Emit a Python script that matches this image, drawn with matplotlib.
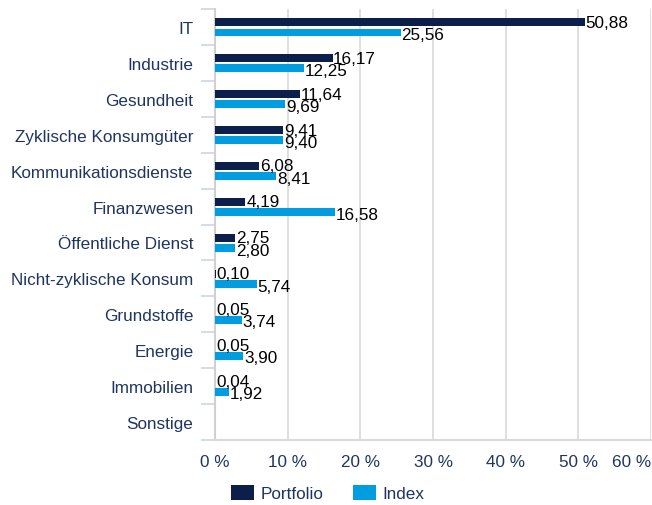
import matplotlib
matplotlib.use("Agg")
import matplotlib.pyplot as plt
import numpy as np
from matplotlib.patches import Patch

categories = ["IT", "Industrie", "Gesundheit", "Zyklische Konsumgüter",
              "Kommunikationsdienste", "Finanzwesen", "Öffentliche Dienst",
              "Nicht-zyklische Konsum", "Grundstoffe", "Energie", "Immobilien", "Sonstige"]
portfolio = [50.88, 16.17, 11.64, 9.41, 6.08, 4.19, 2.75, 0.10, 0.05, 0.05, 0.04, np.nan]
index_vals = [25.56, 12.25, 9.69, 9.40, 8.41, 16.58, 2.80, 5.74, 3.74, 3.90, 1.92, np.nan]
xticks = [0, 10, 20, 30, 40, 50, 60]
series_names = ["Portfolio", "Index"]

plt.rcParams['font.family'] = ['Liberation Sans', 'DejaVu Sans']
navy = "#0c1f4b"
blue = "#009ee0"
label_col = "#1f3560"
fs = 12.3

fig = plt.figure(figsize=(6.52, 5.06), dpi=100)
ax = fig.add_axes([215/652, 1-441/506, 436/652, 431/506])

n = len(categories)
y = np.arange(n)
h = 0.22
off_p = -0.13
off_i = 0.155
ax.barh(y + off_p, portfolio, height=h, color=navy, zorder=3)
ax.barh(y + off_i, index_vals, height=h, color=blue, zorder=3)

def fmt(v):
    return f"{v:.2f}".replace(".", ",")

for i in range(n):
    p = portfolio[i]
    q = index_vals[i]
    if not np.isnan(p):
        ax.annotate(fmt(p), (p, y[i] + off_p), xytext=(0.5, 0), textcoords="offset points",
                    ha="left", va="center", fontsize=fs, color="black", zorder=4)
    if not np.isnan(q):
        ax.annotate(fmt(q), (q, y[i] + off_i), xytext=(0.5, -1.5), textcoords="offset points",
                    ha="left", va="center", fontsize=fs, color="black", zorder=4)

ax.set_xlim(0, 60)
ax.set_ylim(n - 0.5, -0.5)
ax.set_xticks(xticks)
ax.set_xticklabels([f"{t} %" for t in xticks], color=label_col, fontsize=fs)
labs = ax.get_xticklabels()
labs[-1].set_horizontalalignment("right")
ax.tick_params(axis="x", length=0, pad=10)
ax.set_yticks(y)
ax.set_yticklabels(categories, color=label_col, fontsize=fs)
ax.tick_params(axis="y", which="major", length=0, pad=15.5)
ax.set_yticks(np.arange(-0.5, n, 1), minor=True)
ax.tick_params(axis="y", which="minor", length=10, color="#c9d5ea", width=1.2)
ax.grid(axis="x", color="#d9d9d9", linewidth=1.2, zorder=0)
for s in ["top", "right"]:
    ax.spines[s].set_visible(False)
ax.spines["left"].set_color("#d0d0d0")
ax.spines["left"].set_linewidth(1.5)
ax.spines["bottom"].set_color("#d9d9d9")
ax.spines["bottom"].set_linewidth(1.5)

handles = [Patch(facecolor=navy), Patch(facecolor=blue)]
fig.legend(handles, series_names, loc="center", bbox_to_anchor=(328/652, 1-494/506),
           ncol=2, frameon=False, fontsize=fs, handlelength=1.35, handleheight=1.0,
           columnspacing=1.7, handletextpad=0.4, labelcolor=label_col)

fig.savefig("out.png", dpi=100)
